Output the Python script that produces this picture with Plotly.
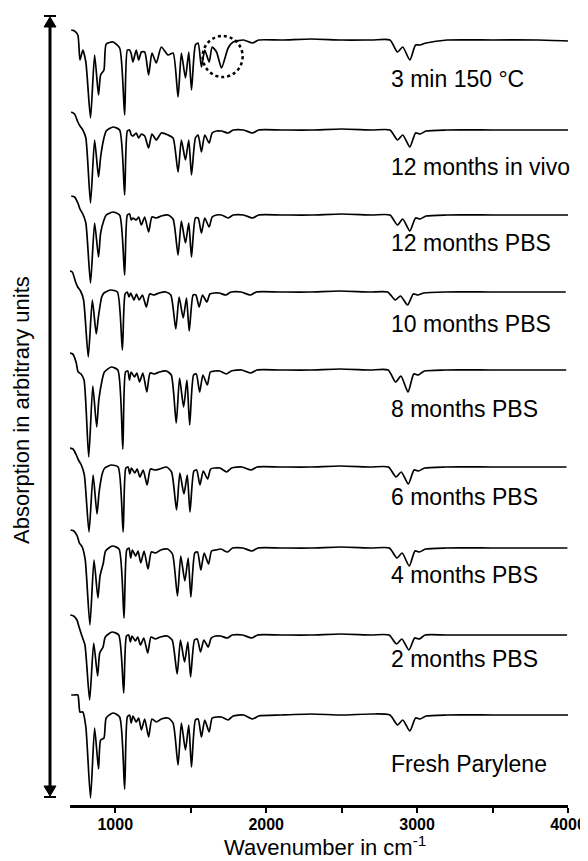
import plotly.graph_objects as go

# ---------------- data ----------------
WAVENUMBER = [708, 730, 752, 766, 785, 805, 836, 863, 889, 903,
              925, 940, 985, 1029, 1062, 1080, 1095, 1106, 1117, 1139,
              1155, 1173, 1195, 1221, 1243, 1272, 1305, 1350, 1383, 1416,
              1438, 1465, 1487, 1505, 1531, 1549, 1571, 1593, 1622, 1642,
              1671, 1704, 1748, 1781, 1850, 1910, 1950, 2100, 2300, 2500,
              2700, 2820, 2870, 2905, 2952, 2990, 3020, 3060, 3200, 3500,
              3800, 4000]

SAMPLES = ["3 min 150 °C", "12 months in vivo", "12 months PBS", "10 months PBS",
           "8 months PBS", "6 months PBS", "4 months PBS", "2 months PBS",
           "Fresh Parylene"]

ABS_3MIN_150C = [10, 9, 5, -20, -10, -22, -78, -15, -55, -35, -30, -4, -2, -8, -75, -10, -10, -14, -22, -10,
                 -20, -12, -12, -35, -13, -23, -7, -15, -13, -57, -13, -38, -12, -50, -5, -3, -27, -10, -22, -7,
                 -12, -28, -8, -2, 0, -3, 0, 0, 1, 0, 0, 0, -12, -7, -20, -5, -5, -3, 0, 0, 0, -1]
ABS_12M_INVIVO = [18, 16, 8, 4, 0, -8, -73, -10, -47, -27, -8, -1, 3, 0, -65, -1, 0, -5, -6, -3,
                  -8, -4, -6, -18, -4, -10, -3, -5, -8, -42, -10, -30, -10, -45, -8, -5, -22, -5, -13, -3,
                  -1, -1, -3, 0, 0, -3, 0, 0, 0, 1, 0, 0, -10, -5, -17, -3, -4, -1, 0, 0, 0, 0]
ABS_12M_PBS = [19, 18, 12, 6, 1, -8, -68, -8, -42, -18, -5, 0, 3, 0, -60, 0, 1, -5, -3, -5,
               -2, -10, -2, -17, -2, -3, -1, 0, -4, -40, -6, -28, -8, -42, -3, -3, -18, -3, -12, -2,
               0, 0, -3, 0, 0, -3, 0, 0, 0, 1, 0, 0, -10, -4, -16, -3, -4, -1, 0, 0, 0, 0]
ABS_10M_PBS = [21, 20, 10, 5, 1, -8, -65, -8, -42, -25, -5, -1, 2, 0, -58, -2, 0, -5, -1, -8,
               -2, -8, -3, -15, -2, -3, -1, 0, -3, -37, -5, -26, -6, -39, -3, -3, -15, -3, -10, -2,
               -1, -1, -3, 0, 0, -3, 0, 0, 0, 1, 0, 0, -8, -4, -13, -2, -3, -1, 0, 0, 0, 0]
ABS_8M_PBS = [17, 16, 8, -2, -4, -10, -87, -16, -57, -30, -10, -2, 3, 0, -79, -2, -1, -10, -2, -7,
              -3, -12, -3, -22, -3, -4, -2, -1, -5, -53, -8, -37, -10, -55, -5, -4, -22, -5, -15, -2,
              -1, -1, -4, -1, 0, -3, 0, 0, 0, 1, 0, 0, -12, -6, -22, -4, -5, -1, 0, 0, 0, 0]
ABS_6M_PBS = [19, 18, 12, 7, 2, -8, -65, -8, -47, -25, -6, -1, 2, 0, -65, -1, 0, -7, -1, -6,
              -2, -10, -3, -18, -2, -3, -2, 0, -5, -43, -6, -27, -8, -45, -4, -3, -18, -4, -12, -2,
              -1, -1, -5, -1, 0, -3, 0, 0, 0, 1, 0, 0, -10, -5, -17, -3, -4, -1, 0, 0, 0, 0]
ABS_4M_PBS = [18, 17, 12, 5, 1, -12, -77, -12, -50, -28, -15, -3, 2, -1, -70, -2, 0, -10, -2, -8,
              -3, -15, -3, -21, -4, -5, -2, -1, -6, -48, -8, -33, -10, -49, -5, -4, -22, -5, -16, -3,
              -2, -1, -4, 0, 0, -3, 0, 0, 0, 1, 0, 0, -10, -5, -18, -3, -4, -1, 0, 0, 0, 0]
ABS_2M_PBS = [20, 19, 15, 8, -1, -10, -65, -8, -41, -18, -12, -2, 3, 0, -58, -1, 0, -7, -1, -6,
              -2, -10, -3, -18, -2, -4, -2, -1, -5, -39, -5, -27, -7, -42, -5, -4, -17, -5, -12, -3,
              -1, -1, -3, 0, 0, -3, 0, 0, 0, 1, 0, 0, -9, -4, -15, -3, -4, 0, 0, 0, 0, 0]
ABS_FRESH = [20, 20, 20, 3, 3, -12, -83, -13, -54, -25, -23, -3, 2, -2, -74, -2, 0, -8, -1, -7,
             -3, -15, -4, -22, -4, -7, -4, -3, -8, -50, -8, -35, -10, -52, -5, -4, -22, -5, -17, -3,
             -2, -2, -5, -1, 0, -4, -1, 0, 1, 0, 1, 0, -10, -5, -16, -3, -4, -1, 0, 0, 0, 0]

# wavenumber calibration offset of each measurement (cm-1)
SHIFT_CM = [0, 0, 0, -15, -12, -10, -4, -6, 0]

CARBONYL_PEAK_CM = 1704

X_TICKS = [1000, 2000, 3000, 4000]
X_TICK_TEXT = ["1000", "2000", "3000", "4000"]
X_MINOR_STEP = 500

SPECTRA = [ABS_3MIN_150C, ABS_12M_INVIVO, ABS_12M_PBS, ABS_10M_PBS, ABS_8M_PBS,
           ABS_6M_PBS, ABS_4M_PBS, ABS_2M_PBS, ABS_FRESH]

# ---------------- layout constants (page pixels) ----------------
PAD = 8                      # default body margin of the html page
W, H = 588 - PAD, 861 - PAD  # figure fits the window without scrollbars
PLOT_LEFT, PLOT_RIGHT = 70, 568
PLOT_TOP, AXIS_ROW = 10, 805
ML, MR = PLOT_LEFT - PAD, W - (PLOT_RIGHT - PAD)
MT, MB = PLOT_TOP - PAD, H - (AXIS_ROW - PAD)
PW = W - ML - MR
PH = H - MT - MB
STACK_BASE = [40, 130, 215, 292, 370, 467, 548, 635, 715]   # baseline row of each trace
LABEL_ROW = [79, 167, 243, 324, 409, 497, 575, 659, 764]
LABEL_X_CM = 2815
FONT = "Liberation Sans, Arial, sans-serif"


def row(p):      # page row -> y data value
    return -(p - PAD)


def col(p):      # page column -> paper x
    return (p - PAD - ML) / PW


def prow(p):     # page row -> paper y
    return ((AXIS_ROW - PAD) - (p - PAD)) / PH


fig = go.Figure()
for vals, shift, base in zip(SPECTRA, SHIFT_CM, STACK_BASE):
    fig.add_trace(go.Scatter(
        x=[w + shift for w in WAVENUMBER],
        y=[v + row(base) for v in vals],
        mode="lines",
        line=dict(color="black", width=1.7, shape="spline", smoothing=0.6),
        hoverinfo="skip", showlegend=False))

annotations = []
for name, r in zip(SAMPLES, LABEL_ROW):
    annotations.append(dict(x=LABEL_X_CM, y=row(r), xref="x", yref="y", text=name,
                            showarrow=False, xanchor="left", yanchor="middle",
                            font=dict(family=FONT, size=23, color="black")))
annotations.append(dict(x=col(325), y=prow(846), xref="paper", yref="paper",
                        text="Wavenumber in cm<sup>-1</sup>", showarrow=False,
                        xanchor="center", yanchor="middle",
                        font=dict(family=FONT, size=22, color="black")))
annotations.append(dict(x=col(21), y=prow(410), xref="paper", yref="paper",
                        text="Absorption in arbitrary units", showarrow=False, textangle=-90,
                        xanchor="center", yanchor="middle",
                        font=dict(family=FONT, size=22, color="black")))

shapes = []
ax_x = col(50)
hw = 6 / PW
# double arrow on the left
shapes.append(dict(type="line", xref="paper", yref="y", x0=ax_x, x1=ax_x, y0=row(25), y1=row(788),
                   line=dict(color="black", width=3)))
shapes.append(dict(type="path", xref="paper", yref="y",
                   path=f"M {ax_x},{row(17)} L {ax_x - hw},{row(27)} L {ax_x + hw},{row(27)} Z",
                   fillcolor="black", line=dict(color="black", width=1)))
shapes.append(dict(type="line", xref="paper", yref="y", x0=ax_x - hw, x1=ax_x + hw,
                   y0=row(16), y1=row(16), line=dict(color="black", width=2)))
shapes.append(dict(type="path", xref="paper", yref="y",
                   path=f"M {ax_x},{row(796)} L {ax_x - hw},{row(786)} L {ax_x + hw},{row(786)} Z",
                   fillcolor="black", line=dict(color="black", width=1)))
shapes.append(dict(type="line", xref="paper", yref="y", x0=ax_x - hw, x1=ax_x + hw,
                   y0=row(797), y1=row(797), line=dict(color="black", width=2)))
# dotted circle around the carbonyl band of the heated sample
shapes.append(dict(type="circle", xref="x", yref="y",
                   x0=CARBONYL_PEAK_CM - 125, x1=CARBONYL_PEAK_CM + 140,
                   y0=row(77), y1=row(36), line=dict(color="black", width=2.5, dash="dot")))

fig.update_layout(
    width=W, height=H,
    margin=dict(l=ML, r=MR, t=MT, b=MB),
    paper_bgcolor="white", plot_bgcolor="white",
    showlegend=False,
    annotations=annotations, shapes=shapes,
    xaxis=dict(range=[700, 4000], showgrid=False, zeroline=False,
               showline=True, linecolor="black", linewidth=3,
               ticks="outside", ticklen=5, tickwidth=1.5, tickcolor="black",
               tickvals=X_TICKS, ticktext=X_TICK_TEXT, ticklabelstandoff=-2,
               minor=dict(ticks="outside", ticklen=5, tickwidth=1.5, tickcolor="black",
                          tick0=0, dtick=X_MINOR_STEP, showgrid=False),
               tickfont=dict(family=FONT, size=16, color="black", weight="bold"),
               automargin=False),
    yaxis=dict(range=[row(AXIS_ROW), row(PLOT_TOP)], visible=False, automargin=False),
)

fig.write_html("out.html")
